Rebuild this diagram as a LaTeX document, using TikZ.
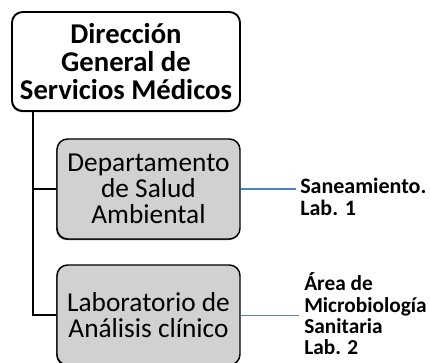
\documentclass[tikz,border=0pt]{standalone}
\usepackage{fontspec}
\usetikzlibrary{shadows}
\setmainfont{Carlito}
\begin{document}
\begin{tikzpicture}[x=0.75pt,y=-0.75pt]
\tikzset{box/.style = {draw, rounded corners=8pt, align=center, inner sep=0pt,
                       drop shadow={shadow xshift=-0.6pt, shadow yshift=-0.8pt, fill=black!75, opacity=1}},
         head/.style = {box, line width=1.4pt, fill=white, minimum width=228*0.75pt, minimum height=99*0.75pt, font=\fontsize{21.5}{20.8}\selectfont\bfseries},
         unit/.style = {box, line width=1.1pt, fill=black!18, minimum width=183*0.75pt, minimum height=100*0.75pt, font=\fontsize{20.5}{19.5}\selectfont},
         note/.style = {align=left, anchor=west, inner sep=0pt, font=\fontsize{16.5}{16}\selectfont\bfseries},
         trunk/.style = {line width=2pt}}
\definecolor{lineblue}{HTML}{4F81BD}
\useasboundingbox (0,0) rectangle (430,363);
\node[head] (dir) at (126,61.5) {Dirección\\General de\\Servicios Médicos};
\node[unit] (dep) at (148.5,189) {Departamento\\de Salud\\Ambiental};
\node[unit] (lab) at (148.5,315) {Laboratorio de\\Análisis clínico};
\node[note] (san) at (300,197) {Saneamiento.\\Lab. 1};
\node[note, font=\fontsize{16}{16}\selectfont\bfseries] (micro) at (304,314) {Área de\\Microbiología\\Sanitaria\\Lab. 2};
\coordinate (t) at (33,111);
\draw[trunk] (t) |- (lab.west);
\draw[trunk] (t |- dep.west) to (dep.west);
\draw[lineblue, line width=0.8pt] (dep.east) to ([xshift=-3pt]san.west |- dep.east);
\draw[lineblue!70!gray, line width=0.5pt] (lab.east) to ([xshift=-4pt]micro.west |- lab.east);
\end{tikzpicture}
\end{document}
